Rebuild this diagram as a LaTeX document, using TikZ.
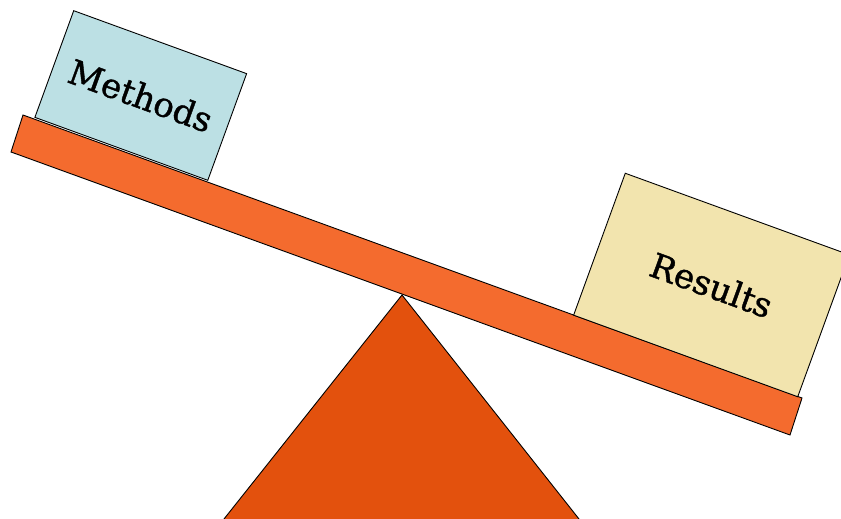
\documentclass[tikz,border=0pt]{standalone}
\usepackage{fontspec}
\setmainfont{DejaVu Serif}[FakeBold=1.2]
\definecolor{plank}{HTML}{F46B2E}
\definecolor{fulcrum}{HTML}{E3510D}
\definecolor{methodsfill}{HTML}{BCE0E4}
\definecolor{resultsfill}{HTML}{F2E4AE}
\begin{document}
\begin{tikzpicture}[x=1pt,y=-1pt,
  outline/.style={draw=black,line width=0.9pt,line join=miter},
  weight/.style={outline,rectangle,rotate=-20,inner sep=0pt,
    font=\fontsize{34}{40}\selectfont}]
\useasboundingbox (0,0) rectangle (841,519);
\clip (0,0) rectangle (841,519);
% fulcrum
\draw[outline,fill=fulcrum] (402,295) -- (175.5,580) -- (627.2,580) -- cycle;
% plank
\draw[outline,fill=plank] (23,115) -- (802,398) -- (790,435) -- (11,152) -- cycle;
% weights
\node[weight,fill=methodsfill,minimum width=184pt,minimum height=113.5pt] (methods) at (140.75,95.5) {Methods};
\node[weight,fill=resultsfill,minimum width=238.5pt,minimum height=151pt] (results) at (711.5,285) {Results};
\end{tikzpicture}
\end{document}
